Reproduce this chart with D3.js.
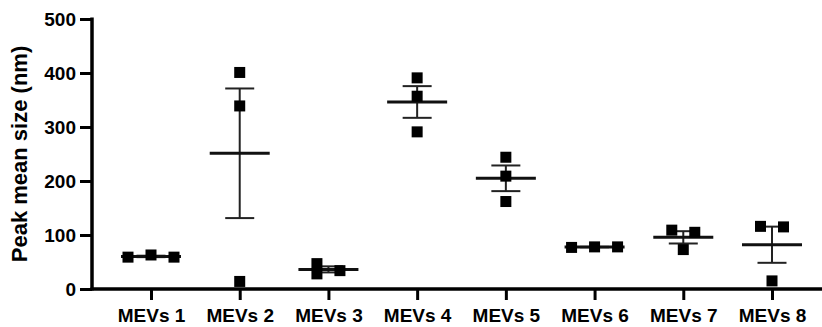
<!DOCTYPE html>
<html>
<head>
<meta charset="utf-8">
<script src="https://cdn.jsdelivr.net/npm/d3@7"></script>
<style>
  html, body { margin: 0; padding: 0; background: #fff; }
  svg { display: block; }
  text { font-family: "Liberation Sans", Arial, sans-serif; font-weight: bold; fill: #000; }
</style>
</head>
<body>
<svg id="chart" width="822" height="327"></svg>
<script>
  const GROUPS = ["MEVs 1", "MEVs 2", "MEVs 3", "MEVs 4", "MEVs 5", "MEVs 6", "MEVs 7", "MEVs 8"];

  // replicate values per group
  const VALUES = [
    [59, 63, 59],
    [401, 339, 14],
    [47, 28, 34],
    [391, 357, 291],
    [244, 209, 162],
    [77, 78, 78],
    [109, 73, 105],
    [116, 15, 115],
  ];

  const Y_TICKS = [0, 100, 200, 300, 400, 500];
  const Y_TITLE = "Peak mean size (nm)";

  (function () {
    const W = 822;
    const H = 327;
    const axisX = 92;
    const axisY = 289;
    const markerSize = 11;
    const colStep = 23;
    const collide = 9;

    const svg = d3.select("#chart");

    const x = d3.scalePoint().domain(GROUPS).range([151, 772]);
    const y = d3.scaleLinear().domain([0, 500]).range([axisY, 19]);

    // spread overlapping points sideways, like prism does
    function layout(vals) {
      const idx = vals.map((v, i) => i).sort((a, b) => vals[a] - vals[b]);
      const clusters = [];
      idx.forEach((i, k) => {
        if (k > 0 && Math.abs(y(vals[i]) - y(vals[idx[k - 1]])) < collide) {
          clusters[clusters.length - 1].push(i);
        } else {
          clusters.push([i]);
        }
      });
      const off = new Array(vals.length).fill(0);
      clusters.forEach((c) => {
        const members = c.slice().sort((a, b) => a - b);
        const cols = [];
        const colOf = {};
        members.forEach((i) => {
          let ci = 0;
          while (
            cols[ci] &&
            cols[ci].some((j) => Math.abs(y(vals[i]) - y(vals[j])) < collide)
          ) ci++;
          if (!cols[ci]) cols[ci] = [];
          cols[ci].push(i);
          colOf[i] = ci;
        });
        const n = cols.length;
        members.forEach((i) => {
          off[i] = (colOf[i] - (n - 1) / 2) * colStep;
        });
      });
      return off;
    }

    const stats = GROUPS.map((g, gi) => {
      const vals = VALUES[gi];
      const mean = d3.mean(vals);
      const sem = d3.deviation(vals) / Math.sqrt(vals.length);
      return { g, vals, mean, sem, off: layout(vals) };
    });

    // axes
    const yAxis = svg.append("g")
      .attr("transform", "translate(" + axisX + ",0)")
      .call(d3.axisLeft(y).tickValues(Y_TICKS).tickSize(12).tickPadding(4).tickFormat(d3.format("d")));
    yAxis.select(".domain").remove();
    yAxis.selectAll(".tick line").attr("stroke", "#000").attr("stroke-width", 3);
    yAxis.selectAll(".tick text").style("font-size", "19px").attr("dy", "0.36em");

    const xAxis = svg.append("g")
      .attr("transform", "translate(0," + axisY + ")")
      .call(d3.axisBottom(x).tickSize(11).tickPadding(9));
    xAxis.select(".domain").remove();
    xAxis.selectAll(".tick line").attr("stroke", "#000").attr("stroke-width", 3);
    xAxis.selectAll(".tick text").style("font-size", "19px");

    svg.append("line")
      .attr("x1", axisX).attr("x2", axisX)
      .attr("y1", y(500) - 1.5).attr("y2", axisY + 1.5)
      .attr("stroke", "#000").attr("stroke-width", 3.5);
    svg.append("line")
      .attr("x1", axisX - 1.5).attr("x2", W)
      .attr("y1", axisY).attr("y2", axisY)
      .attr("stroke", "#000").attr("stroke-width", 3.5);

    svg.append("text")
      .attr("transform", "translate(27," + (y(250)) + ") rotate(-90)")
      .attr("text-anchor", "middle")
      .style("font-size", "22px")
      .text(Y_TITLE);

    // mean +/- sem
    const bars = svg.append("g").selectAll("g").data(stats).join("g");
    bars.append("line")
      .attr("x1", (d) => x(d.g)).attr("x2", (d) => x(d.g))
      .attr("y1", (d) => y(d.mean + d.sem)).attr("y2", (d) => y(d.mean - d.sem))
      .attr("stroke", "#222").attr("stroke-width", 2);
    bars.selectAll(".cap")
      .data((d) => [d.mean + d.sem, d.mean - d.sem].map((v) => ({ g: d.g, v })))
      .join("line")
      .attr("class", "cap")
      .attr("x1", (d) => x(d.g) - 14.5).attr("x2", (d) => x(d.g) + 14.5)
      .attr("y1", (d) => y(d.v)).attr("y2", (d) => y(d.v))
      .attr("stroke", "#222").attr("stroke-width", 2);
    bars.append("line")
      .attr("x1", (d) => x(d.g) - 30).attr("x2", (d) => x(d.g) + 30)
      .attr("y1", (d) => y(d.mean)).attr("y2", (d) => y(d.mean))
      .attr("stroke", "#111").attr("stroke-width", 3);

    // replicate points
    const pts = stats.flatMap((d) =>
      d.vals.map((v, i) => ({ g: d.g, v, off: d.off[i] }))
    );
    svg.append("g").selectAll("rect")
      .data(pts)
      .join("rect")
      .attr("x", (d) => x(d.g) + d.off - markerSize / 2)
      .attr("y", (d) => y(d.v) - markerSize / 2)
      .attr("width", markerSize)
      .attr("height", markerSize)
      .attr("fill", "#000");
  })();
</script>
</body>
</html>
